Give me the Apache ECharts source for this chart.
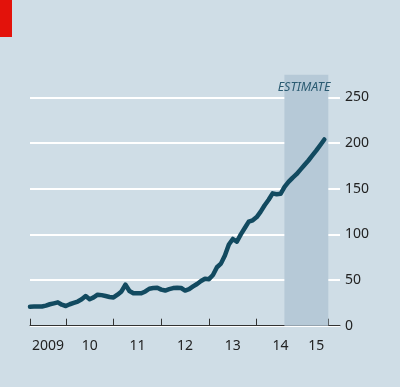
<!DOCTYPE html>
<html><head><meta charset="utf-8">
<script src="https://cdn.jsdelivr.net/npm/echarts@6/dist/echarts.min.js"></script>
<style>html,body{margin:0;padding:0;background:#cfdde6}#c{width:400px;height:387px}</style>
</head><body><div id="c"></div>
<script>
// Monthly series, April 2009 to June 2015
var startYear = 2009, startMonth = 4;
var values = [20.8,20.9,21,21,22,23.5,24.5,25.6,23,21.6,23.5,25,26.5,29,32.5,29,31,34,33.5,32.5,
  31.5,31,34,37.5,45,38,35.5,35.5,35.5,37.5,40.5,41.3,41.6,39.5,38.5,40,41.2,41.6,41.3,38.5,
  40,43,45.7,49,51.5,51,55.5,64,68,77,89,95,92,100,107,114,115.5,119,125,132,
  138,145,144,144.5,152,157.5,162,166,171,176,181,186.5,192,198,204];
var yearTicks = [2009.25, 2010, 2011, 2012, 2013, 2014, 2015, 2015.5];
var yearLabels = [[2009.625,'2009'],[2010.5,'10'],[2011.5,'11'],[2012.5,'12'],[2013.5,'13'],[2014.5,'14'],[2015.25,'15']];
var yTicks = [0,50,100,150,200,250];
var estimate = {from: 2014.58, to: 2015.5, top: 275, label: 'ESTIMATE'};

var data = values.map(function(v,i){ return [startYear + (startMonth-1+i)/12, v]; });
var labelMap = {};
yearLabels.forEach(function(p){ labelMap[p[0].toFixed(3)] = p[1]; });

var chart = echarts.init(document.getElementById('c'), null, {renderer:'canvas'});
chart.setOption({
  backgroundColor:'#cfdde6',
  animation:false,
  graphic:[{type:'rect', shape:{x:0,y:0,width:12,height:37}, style:{fill:'#e3120b'}}],
  grid:{left:30, right:60, top:97.5, bottom:61.3},
  xAxis:{type:'value', min:2009.25, max:2015.745,
    axisLine:{show:true, lineStyle:{color:'#333', width:1}},
    axisTick:{show:true, inside:true, length:7, customValues:yearTicks, lineStyle:{color:'#333'}},
    axisLabel:{customValues:yearLabels.map(function(p){return p[0];}), margin:13,
      formatter:function(v){ return labelMap[v.toFixed(3)] || ''; },
      fontFamily:'Noto Sans', fontSize:14, color:'#222'},
    splitLine:{show:false}},
  yAxis:{type:'value', position:'right', min:0, max:250, interval:50,
    axisLine:{show:false}, axisTick:{show:false},
    axisLabel:{margin:5, align:'left', fontFamily:'Noto Sans', fontSize:14, color:'#222'},
    splitLine:{show:true, lineStyle:{color:'#ffffff', width:2}}},
  series:[
    {type:'custom', z:1, silent:true, data:[[estimate.from, estimate.to, estimate.top]],
      renderItem:function(params, api){
        var p0 = api.coord([api.value(0), 0]);
        var p1 = api.coord([api.value(1), api.value(2)]);
        return {type:'group', children:[
          {type:'rect', shape:{x:p0[0], y:p1[1], width:p1[0]-p0[0], height:p0[1]-p1[1]}, style:{fill:'#b6c9d7'}},
          {type:'text', z2:10, style:{text:estimate.label, x:p1[0]+2, y:p1[1]+19, align:'right', verticalAlign:'bottom',
            fill:'#2b5b72', font:'italic 12.5px "Noto Sans"'}}
        ]};
      }},
    {type:'line', z:5, data:data, showSymbol:false, symbol:'none',
      lineStyle:{color:'#124a60', width:4.5, join:'round', cap:'round'}}
  ]
});
</script></body></html>
